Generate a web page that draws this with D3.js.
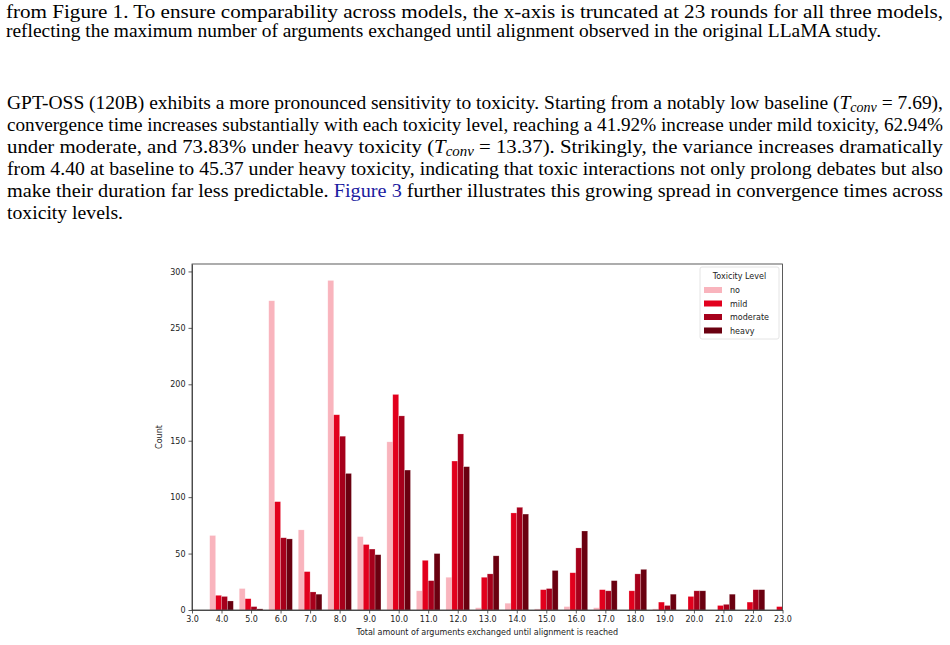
<!DOCTYPE html>
<html>
<head>
<meta charset="utf-8">
<script src="https://cdn.jsdelivr.net/npm/d3@7"></script>
<style>
  html, body { margin: 0; padding: 0; background: #fff; }
  svg { display: block; }
  .para { font-family: "Liberation Serif", "Times New Roman", serif; fill: #000; }
  .axis text { font-family: "DejaVu Sans", sans-serif; font-size: 8px; fill: #222; }
  .axis path, .axis line { stroke: #333; stroke-width: 0.8; }
</style>
</head>
<body>
<div id="page"></div>
<script>
// rounds on the x axis (3 .. 23)
var rounds = [3,4,5,6,7,8,9,10,11,12,13,14,15,16,17,18,19,20,21,22,23];
// counts per toxicity level
var noTox    = [0,66,19,274,71,292,65,149,17,29,2,6,1,3,2,0,1,0,0,0,0];
var mild     = [0,13,10,96,34,173,58,191,44,132,29,86,18,33,18,17,7,12,4,7,3];
var moderate = [0,12,3,64,16,154,54,172,26,156,32,91,19,55,17,32,4,17,5,18,0];
var heavy    = [0,8,1,63,14,121,49,124,50,127,48,85,35,70,26,36,14,17,14,18,0];
var levels = ["no", "mild", "moderate", "heavy"];
var colors = ["#f9b4bd", "#e2001d", "#a6001b", "#6a0010"];
var yTicks = [0, 50, 100, 150, 200, 250, 300];

var series = [noTox, mild, moderate, heavy];

var svg = d3.select("#page").append("svg")
  .attr("width", 950).attr("height", 645);

// ---- body text ----
var text = svg.append("g").attr("class", "para");

function line(y, x, len, size, parts) {
  var t = text.append("text").attr("x", x).attr("y", y).attr("font-size", size);
  if (len) t.attr("textLength", len).attr("lengthAdjust", "spacingAndGlyphs");
  parts.forEach(function(p) {
    if (typeof p === "string") { t.append("tspan").text(p); return; }
    var s = t.append("tspan").text(p.t);
    if (p.it) s.attr("font-style", "italic");
    if (p.sub) s.attr("font-size", size * 0.72).attr("dy", 3.5);
    if (p.up) s.attr("dy", -3.5);
    if (p.fill) s.attr("fill", p.fill);
  });
}

line(17.5, 6, 937, 19, ["from Figure 1.  To ensure comparability across models, the x-axis is truncated at 23 rounds for all three models,"]);
line(36.8, 6, 875, 19, ["reflecting the maximum number of arguments exchanged until alignment observed in the original LLaMA study."]);

line(108.7, 7, 936, 19, ["GPT-OSS (120B) exhibits a more pronounced sensitivity to toxicity. Starting from a notably low baseline (",
  {t: "T", it: true}, {t: "conv", it: true, sub: true}, {t: " = 7.69),", up: true}]);
line(130.8, 7, 936, 19, ["convergence time increases substantially with each toxicity level, reaching a 41.92% increase under mild toxicity, 62.94%"]);
line(152.9, 7, 936, 19, ["under moderate, and 73.83% under heavy toxicity (",
  {t: "T", it: true}, {t: "conv", it: true, sub: true}, {t: " = 13.37).", up: true},
  "  Strikingly, the variance increases dramatically"]);
line(175, 7, 936, 19, ["from 4.40 at baseline to 45.37 under heavy toxicity, indicating that toxic interactions not only prolong debates but also"]);
line(197, 7, 936, 19, ["make their duration far less predictable. ", {t: "Figure 3", fill: "#1a1aa0"},
  " further illustrates this growing spread in convergence times across"]);
line(219, 7, 116, 19, ["toxicity levels."]);

// ---- chart ----
var pLeft = 192, pRight = 782.5, pTop = 264, pBottom = 610;

var x = d3.scaleLinear().domain([3, 23]).range([pLeft, pRight]);
var y = d3.scaleLinear().domain([0, 292 * 1.05]).range([pBottom, pTop]);

svg.append("clipPath").attr("id", "plotclip")
  .append("rect").attr("x", pLeft).attr("y", pTop)
  .attr("width", pRight - pLeft).attr("height", pBottom - pTop);

var plot = svg.append("g").attr("clip-path", "url(#plotclip)");

series.forEach(function(vals, i) {
  plot.selectAll(null).data(vals).enter().append("rect")
    .attr("x", function(d, j) { return x(rounds[j] - 0.4 + 0.2 * i); })
    .attr("width", x(3.2) - x(3))
    .attr("y", function(d) { return y(d); })
    .attr("height", function(d) { return y(0) - y(d); })
    .attr("fill", colors[i])
    .attr("stroke", "#fff").attr("stroke-opacity", 0.35).attr("stroke-width", 0.6);
});

svg.append("g").attr("class", "axis")
  .attr("transform", "translate(0," + pBottom + ")")
  .call(d3.axisBottom(x).tickValues(rounds).tickFormat(d3.format(".1f"))
    .tickSize(3.5).tickSizeOuter(0).tickPadding(2.5));

svg.append("g").attr("class", "axis")
  .attr("transform", "translate(" + pLeft + ",0)")
  .call(d3.axisLeft(y).tickValues(yTicks).tickSize(3.5).tickSizeOuter(0).tickPadding(3));

// frame
svg.append("rect").attr("x", pLeft).attr("y", pTop)
  .attr("width", pRight - pLeft).attr("height", pBottom - pTop)
  .attr("fill", "none").attr("stroke", "#333").attr("stroke-width", 0.8);

svg.append("text")
  .attr("x", (pLeft + pRight) / 2).attr("y", 635)
  .attr("text-anchor", "middle")
  .style("font-family", "DejaVu Sans, sans-serif").style("font-size", "8px").attr("fill", "#222")
  .text("Total amount of arguments exchanged until alignment is reached");

svg.append("text")
  .attr("transform", "translate(162," + ((pTop + pBottom) / 2) + ") rotate(-90)")
  .attr("text-anchor", "middle")
  .style("font-family", "DejaVu Sans, sans-serif").style("font-size", "8px").attr("fill", "#222")
  .text("Count");

// legend
var lg = svg.append("g").attr("transform", "translate(700,267)");
lg.append("rect").attr("width", 79).attr("height", 72).attr("rx", 2)
  .attr("fill", "#fff").attr("fill-opacity", 0.8).attr("stroke", "#ddd").attr("stroke-width", 0.8);
lg.append("text").attr("x", 39.5).attr("y", 12).attr("text-anchor", "middle")
  .style("font-family", "DejaVu Sans, sans-serif").style("font-size", "8px").attr("fill", "#222")
  .text("Toxicity Level");
levels.forEach(function(name, i) {
  var row = lg.append("g").attr("transform", "translate(0," + (23 + i * 13.5) + ")");
  row.append("rect").attr("x", 4).attr("y", -3).attr("width", 18).attr("height", 6)
    .attr("fill", colors[i]);
  row.append("text").attr("x", 30).attr("y", 3)
    .style("font-family", "DejaVu Sans, sans-serif").style("font-size", "8px").attr("fill", "#222")
    .text(name);
});
</script>
</body>
</html>
